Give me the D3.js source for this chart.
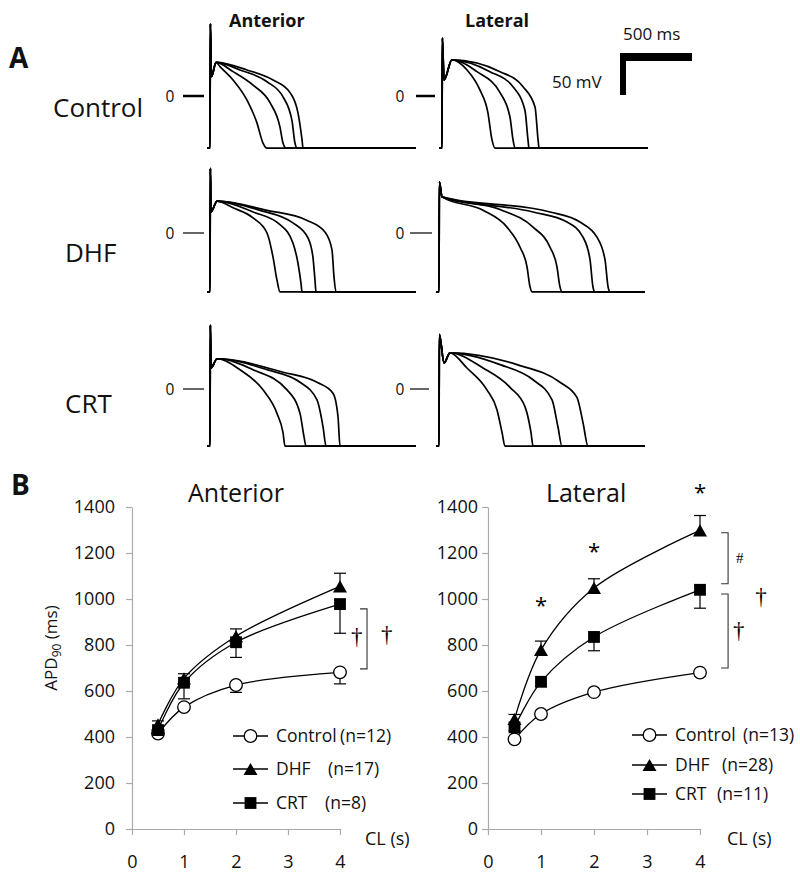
<!DOCTYPE html>
<html><head><meta charset="utf-8">
<script src="https://cdn.jsdelivr.net/npm/d3@7"></script>
<style>
body{margin:0;background:#fff}
svg{display:block}
text{font-family:'Open Sans',sans-serif;fill:#111}
</style>
</head><body>
<svg id="c" width="800" height="874"></svg>
<script>
// ---------------- Panel B data ----------------
const CL = [0.5, 1, 2, 4];
const yTicks = [0, 200, 400, 600, 800, 1000, 1200, 1400];
const xTicks = [0, 1, 2, 3, 4];
const groups = ["Control", "DHF", "CRT"];

const antControl = [415, 530, 626, 681];
const antControlErr = [0, 0, 32, 50];
const antDHF = [455, 655, 838, 1055];
const antDHFErr = [15, 20, 32, 57];
const antCRT = [430, 636, 812, 978];
const antCRTErr = [12, 70, 66, 127];

const latControl = [390, 500, 595, 680];
const latControlErr = [0, 0, 0, 15];
const latDHF = [478, 779, 1048, 1298];
const latDHFErr = [20, 38, 40, 65];
const latCRT = [442, 640, 835, 1040];
const latCRTErr = [15, 20, 60, 80];

const antN = ["(n=12)", "(n=17)", "(n=8)"];
const latN = ["(n=13)", "(n=28)", "(n=11)"];

// ---------------- Panel A data: action potentials [ms, mV] ----------------
// head = [rest mV, spike mV, notch [ms,mV] or null, dome [ms,mV]]
const apAntControlHead = [-62, 86, [10, 23], [42, 40]];
const apAntControl = [
  [[69,35],[160,19],[257,-5],[326,-32],[368,-56],[396,-62]],
  [[160,29],[299,13],[417,-8],[486,-37],[507,-56],[528,-62]],
  [[208,31],[396,17],[507,-1],[569,-29],[590,-56],[604,-62]],
  [[257,31],[438,19],[556,4],[611,-20],[639,-52],[646,-62]]
];
const apLatControlHead = [-62, 69, [14, 19], [69, 43]];
const apLatControl = [
  [[174,31],[264,7],[319,-20],[347,-52],[368,-62]],
  [[243,29],[403,4],[472,-25],[493,-52],[507,-62]],
  [[333,29],[493,11],[576,-17],[597,-52],[604,-62]],
  [[403,29],[563,11],[646,-13],[667,-52],[674,-62]]
];
const apAntDHFHead = [-70, 77, [7, 25], [49, 38]];
const apAntDHF = [
  [[160,30],[299,18],[396,0],[438,-29],[465,-56],[486,-70]],
  [[299,25],[486,10],[576,-12],[611,-36],[632,-60],[639,-70]],
  [[347,27],[576,12],[681,-6],[715,-29],[729,-56],[736,-70]],
  [[396,27],[674,15],[799,1],[847,-20],[861,-52],[875,-70]]
];
const apLatDHFHead = [-70, 61, null, [21, 43]];
const apLatDHF = [
  [[306,27],[472,7],[563,-17],[611,-40],[632,-64],[646,-70]],
  [[424,28],[653,7],[771,-17],[819,-40],[840,-64],[854,-70]],
  [[653,25],[889,13],[1000,-5],[1049,-32],[1069,-64],[1083,-70]],
  [[771,25],[979,13],[1097,-5],[1153,-32],[1174,-64],[1188,-70]]
];
const apAntCRTHead = [-68, 76, [7, 25], [49, 36]];
const apAntCRT = [
  [[208,23],[368,-1],[465,-29],[507,-52],[521,-68]],
  [[299,23],[535,-1],[625,-29],[653,-57],[667,-68]],
  [[396,23],[625,8],[743,-13],[785,-45],[806,-68]],
  [[507,20],[743,8],[854,-5],[889,-33],[903,-68]]
];
const apLatCRTHead = [-68, 65, [35, 31], [76, 43]];
const apLatCRT = [
  [[194,25],[333,-1],[403,-25],[438,-52],[458,-68]],
  [[306,25],[493,2],[597,-21],[639,-52],[653,-68]],
  [[424,29],[653,11],[785,-13],[826,-45],[854,-68]],
  [[542,29],[840,8],[958,-10],[1000,-40],[1035,-68]]
];
const apBaselineEnd = 1430; // ms
const scaleBarMs = 500, scaleBarMv = 50;

// ---------------- Drawing ----------------
const svg = d3.select('#c');
svg.append('rect').attr('width', 800).attr('height', 874).attr('fill', '#fff');

// Panel A
const pxPerMs = 72 / 500, pxPerMv = 42 / 50;
const apPanels = [
  {head: apAntControlHead, tr: apAntControl, ux: 210, zy: 96, tick: [183, 204], tw: 2.5, lx: 170},
  {head: apLatControlHead, tr: apLatControl, ux: 442, zy: 96, tick: [416, 435], tw: 2.5, lx: 400},
  {head: apAntDHFHead, tr: apAntDHF, ux: 210, zy: 233, tick: [183, 204], tw: 1.2, lx: 170},
  {head: apLatDHFHead, tr: apLatDHF, ux: 439, zy: 233, tick: [410, 432], tw: 1.2, lx: 400},
  {head: apAntCRTHead, tr: apAntCRT, ux: 210, zy: 389, tick: [183, 204], tw: 1.2, lx: 170},
  {head: apLatCRTHead, tr: apLatCRT, ux: 439, zy: 389, tick: [410, 429], tw: 1.2, lx: 400}
];
apPanels.forEach(p => {
  const xs = d3.scaleLinear().domain([0, 500]).range([p.ux, p.ux + 500 * pxPerMs]);
  const ys = d3.scaleLinear().domain([0, 50]).range([p.zy, p.zy - 50 * pxPerMv]);
  const [rest, spike, notch, dome] = p.head;
  const line = d3.line().x(d => xs(d[0])).y(d => ys(d[1])).curve(d3.curveMonotoneX);
  const g = svg.append('g');
  p.tr.forEach(t => {
    const pts = [[-20, rest], [0, rest], [2.5, spike]];
    if (notch) pts.push(notch);
    pts.push(dome);
    t.forEach(q => pts.push(q));
    pts.push([apBaselineEnd, rest]);
    g.append('path').attr('d', line(pts)).attr('fill', 'none')
      .attr('stroke', '#000').attr('stroke-width', 1.7).attr('stroke-linejoin', 'round');
  });
  g.append('line').attr('x1', p.tick[0]).attr('x2', p.tick[1]).attr('y1', ys(0)).attr('y2', ys(0))
    .attr('stroke', '#000').attr('stroke-width', p.tw);
  g.append('text').attr('x', p.lx).attr('y', ys(0) + 5.5).attr('text-anchor', 'middle')
    .style('font-size', '15.5px').text('0');
});

// scale bar
{
  const xs = d3.scaleLinear().domain([0, 500]).range([620, 620 + 500 * pxPerMs]);
  const ys = d3.scaleLinear().domain([0, 50]).range([95, 95 - 50 * pxPerMv]);
  svg.append('line').attr('x1', xs(0)).attr('x2', xs(scaleBarMs)).attr('y1', 57).attr('y2', 57)
    .attr('stroke', '#000').attr('stroke-width', 8);
  svg.append('line').attr('x1', 623).attr('x2', 623).attr('y1', ys(0)).attr('y2', ys(scaleBarMv))
    .attr('stroke', '#000').attr('stroke-width', 6);
  svg.append('text').attr('x', 623).attr('y', 40).style('font-size', '17px').text('500 ms');
  svg.append('text').attr('x', 552).attr('y', 88).style('font-size', '17px').text('50 mV');
}

// Panel A labels
svg.append('text').attr('x', 9).attr('y', 68).style('font-size', '28px').style('font-weight', 'bold').text('A');
svg.append('text').attr('x', 229).attr('y', 27).style('font-size', '18px').style('font-weight', 'bold').text('Anterior');
svg.append('text').attr('x', 465).attr('y', 27).style('font-size', '18px').style('font-weight', 'bold').text('Lateral');
svg.append('text').attr('x', 53).attr('y', 117).style('font-size', '26px').text(groups[0]);
svg.append('text').attr('x', 65).attr('y', 262).style('font-size', '26px').text(groups[1]);
svg.append('text').attr('x', 65).attr('y', 413).style('font-size', '26px').text(groups[2]);

// Panel B
svg.append('text').attr('x', 11).attr('y', 495).style('font-size', '28px').style('font-weight', 'bold').text('B');

function drawChart(o) {
  const x = d3.scaleLinear().domain([0, 4]).range([o.x0, o.x1]);
  const y = d3.scaleLinear().domain([0, 1400]).range([829, 507]);
  const g = svg.append('g');
  const ya = g.append('g').attr('transform', `translate(${o.x0},0)`)
    .call(d3.axisLeft(y).tickValues(yTicks).tickFormat(d3.format('d')).tickSize(6).tickPadding(o.ypad).tickSizeOuter(0));
  const xa = g.append('g').attr('transform', `translate(0,829)`)
    .call(d3.axisBottom(x).tickValues(xTicks).tickFormat(d3.format('d')).tickSize(6).tickPadding(20).tickSizeOuter(0));
  [ya, xa].forEach(a => {
    a.select('.domain').attr('stroke', '#aaa').attr('stroke-width', 1.2);
    a.selectAll('.tick line').attr('stroke', '#aaa').attr('stroke-width', 1.2);
    a.selectAll('.tick text').attr('fill', '#111').style('font-size', '18px').style('font-family', "'Open Sans',sans-serif");
  });
  g.append('text').attr('x', o.clx).attr('y', 845).style('font-size', '18px').text('CL (s)');
  g.append('text').attr('x', x(o.titleX)).attr('y', 502).attr('text-anchor', 'middle').style('font-size', '25px').text(o.title);

  const line = d3.line().x((d, i) => x(CL[i])).y(d => y(d)).curve(d3.curveCatmullRom.alpha(0.5));
  o.series.forEach(s => {
    g.append('path').attr('d', line(s.v)).attr('fill', 'none').attr('stroke', '#000').attr('stroke-width', 1.3);
  });
  // error bars
  o.series.forEach(s => {
    s.v.forEach((v, i) => {
      if (!s.e[i]) return;
      const ye = y(v + s.dir * s.e[i]);
      g.append('line').attr('x1', x(CL[i])).attr('x2', x(CL[i])).attr('y1', y(v)).attr('y2', ye)
        .attr('stroke', '#000').attr('stroke-width', 1.2);
      g.append('line').attr('x1', x(CL[i]) - 6).attr('x2', x(CL[i]) + 6).attr('y1', ye).attr('y2', ye)
        .attr('stroke', '#000').attr('stroke-width', 1.2);
    });
  });
  // markers
  function marker(sel, type, cx, cy) {
    if (type === 'circle') {
      sel.append('circle').attr('cx', cx).attr('cy', cy).attr('r', 6.3)
        .attr('fill', '#fff').attr('stroke', '#000').attr('stroke-width', 1.3);
    } else if (type === 'triangle') {
      sel.append('path').attr('d', d3.symbol(d3.symbolTriangle, 85)())
        .attr('transform', `translate(${cx},${cy + 2})`).attr('fill', '#000');
    } else {
      sel.append('path').attr('d', d3.symbol(d3.symbolSquare, 140)())
        .attr('transform', `translate(${cx},${cy})`).attr('fill', '#000');
    }
  }
  o.series.forEach(s => s.v.forEach((v, i) => marker(g, s.m, x(CL[i]), y(v))));

  // legend
  o.series.forEach((s, i) => {
    const ly = o.legY[i];
    g.append('line').attr('x1', o.legX).attr('x2', o.legX + 35).attr('y1', ly).attr('y2', ly)
      .attr('stroke', '#000').attr('stroke-width', 1.3);
    marker(g, s.m, o.legX + 17.5, ly);
    g.append('text').attr('x', o.legX + 43).attr('y', ly + 6).style('font-size', '17.5px').text(groups[i]);
    g.append('text').attr('x', o.nX[i]).attr('y', ly + 6).style('font-size', '17.5px').text(o.n[i]);
  });

  // brackets and significance marks
  o.brackets.forEach(b => {
    const bx = x(b[0]);
    g.append('path').attr('d', `M${bx - 7},${y(b[1])}H${bx}V${y(b[2])}H${bx - 7}`)
      .attr('fill', 'none').attr('stroke', '#333').attr('stroke-width', 1.1);
  });
  o.marks.forEach(m => {
    g.append('text').attr('x', x(m[0])).attr('y', y(m[1]))
      .attr('text-anchor', 'middle').attr('dominant-baseline', 'central')
      .style('font-family', m[2] === '*' ? "'Open Sans',sans-serif" : "'Liberation Serif',serif")
      .style('font-size', m[3] + 'px').style('fill', '#000').attr('fill', '#000').text(m[2]);
  });
  return {x, y};
}

drawChart({
  x0: 132, x1: 340, ypad: 11, clx: 365, title: 'Anterior', titleX: 2,
  series: [
    {v: antControl, e: antControlErr, dir: -1, m: 'circle'},
    {v: antDHF, e: antDHFErr, dir: 1, m: 'triangle'},
    {v: antCRT, e: antCRTErr, dir: -1, m: 'square'}
  ],
  legX: 233, legY: [736, 769, 803], nX: [340, 328, 325], n: antN,
  brackets: [[4.52, 957, 696]],
  marks: [[4.32, 835, '†', 23], [4.9, 845, '†', 23]]
});

drawChart({
  x0: 488, x1: 700, ypad: 4, clx: 727, title: 'Lateral', titleX: 1.85,
  series: [
    {v: latControl, e: latControlErr, dir: -1, m: 'circle'},
    {v: latDHF, e: latDHFErr, dir: 1, m: 'triangle'},
    {v: latCRT, e: latCRTErr, dir: -1, m: 'square'}
  ],
  legX: 632, legY: [735, 765, 794], nX: [743, 722, 717], n: latN,
  brackets: [[4.53, 1288, 1066], [4.53, 1022, 700]],
  marks: [[4.75, 1180, '#', 15], [4.73, 865, '†', 23], [5.15, 1013, '†', 23],
          [1, 980, '*', 22], [2, 1215, '*', 22], [4, 1470, '*', 22]]
});

// y axis title
svg.append('text').attr('transform', 'translate(57,648) rotate(-90)').attr('text-anchor', 'middle')
  .style('font-size', '17px')
  .call(t => {
    t.append('tspan').text('APD');
    t.append('tspan').attr('dy', 4).style('font-size', '12px').text('90');
    t.append('tspan').attr('dy', -4).text(' (ms)');
  });
</script>
</body></html>
